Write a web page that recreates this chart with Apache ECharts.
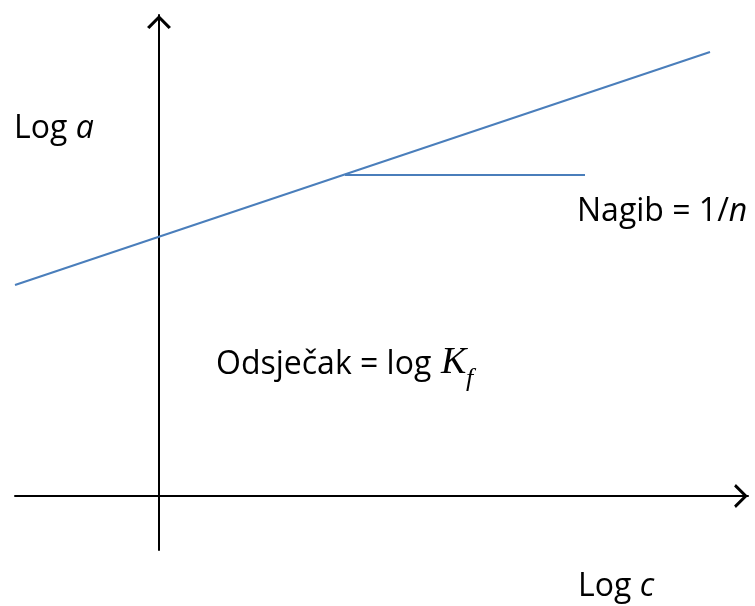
<!DOCTYPE html>
<html>
<head>
<meta charset="utf-8">
<script src="https://cdn.jsdelivr.net/npm/echarts@6/dist/echarts.min.js"></script>
<style>
  html, body { margin: 0; padding: 0; background: #fff; }
  #chart { width: 755px; height: 606px; }
</style>
</head>
<body>
<div id="chart"></div>
<script>
// log c (x) / log a (y), arbitrary units, origin where axes cross
var isothermX = [-1.44, 5.51];
var isothermY = [2.11, 4.44];
// slope marker (horizontal leg)
var slopeX = [1.86, 4.26];
var slopeY = [3.21, 3.21];

var yLabel = 'Log ';
var xLabel = 'Log ';
var slopeLabel = 'Nagib = 1/';
var interceptLabel = 'Odsječak = log';

var font = 'Open Sans';
var fs = 32;
var chevron = 'path://M0,12 L12,0 L24,12 L21.6,13.8 L12,4.2 L2.4,13.8 Z';

function labelWithItalic(left, top, plain, ital) {
  return {
    type: 'text', left: left, top: top,
    style: {
      text: '{n|' + plain + '}{i|' + ital + '}',
      rich: {
        n: { fontFamily: font, fontSize: fs, fill: '#000' },
        i: { fontFamily: font, fontSize: fs, fontStyle: 'italic', fill: '#000' }
      }
    }
  };
}

var chart = echarts.init(document.getElementById('chart'));
chart.setOption({
  animation: false,
  grid: { left: 15, right: 7, top: 15, bottom: 56 },
  xAxis: {
    type: 'value', min: -1.44, max: 5.89,
    axisLine: {
      onZero: true,
      lineStyle: { color: '#000', width: 2 },
      symbol: ['none', chevron], symbolSize: [24, 14], symbolOffset: [0, -7]
    },
    axisTick: { show: false }, axisLabel: { show: false }, splitLine: { show: false }
  },
  yAxis: {
    type: 'value', min: -0.54, max: 4.81,
    axisLine: {
      onZero: true,
      lineStyle: { color: '#000', width: 2 },
      symbol: ['none', chevron], symbolSize: [24, 14], symbolOffset: [0, -7]
    },
    axisTick: { show: false }, axisLabel: { show: false }, splitLine: { show: false }
  },
  series: [
    {
      type: 'line', showSymbol: false, silent: true,
      lineStyle: { color: '#4a7ebb', width: 2 },
      data: isothermX.map(function (x, i) { return [x, isothermY[i]]; })
    },
    {
      type: 'line', showSymbol: false, silent: true,
      lineStyle: { color: '#4a7ebb', width: 2 },
      data: slopeX.map(function (x, i) { return [x, slopeY[i]]; })
    }
  ],
  graphic: [
    labelWithItalic(14, 113, yLabel, 'a'),
    labelWithItalic(577, 196, slopeLabel, 'n'),
    labelWithItalic(578, 571, xLabel, 'c'),
    {
      type: 'text', left: 216, top: 349,
      style: { text: interceptLabel, fontFamily: font, fontSize: fs, fill: '#000' }
    },
    {
      type: 'text', left: 441, top: 344,
      style: { text: 'K', fontFamily: 'Liberation Serif', fontSize: 38, fontStyle: 'italic', fill: '#000' }
    },
    {
      type: 'text', left: 466, top: 366,
      style: { text: 'f', fontFamily: 'Liberation Serif', fontSize: 26, fontStyle: 'italic', fill: '#000' }
    }
  ]
});
</script>
</body>
</html>
